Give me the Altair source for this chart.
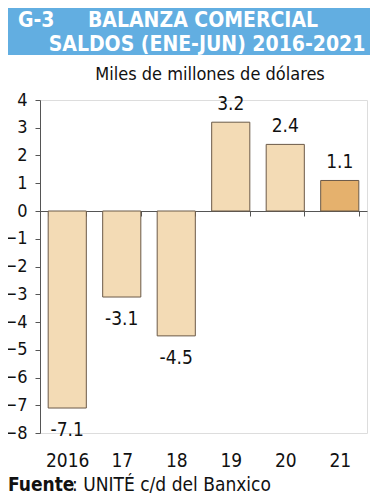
import altair as alt
import pandas as pd

years = ["2016", "17", "18", "19", "20", "21"]
values = [-7.1, -3.1, -4.5, 3.2, 2.4, 1.1]
highlight = ["no", "no", "no", "no", "no", "yes"]
y_ticks = [-8, -7, -6, -5, -4, -3, -2, -1, 0, 1, 2, 3, 4]

df = pd.DataFrame({"year": years, "value": values, "hl": highlight})
df["label"] = df["value"].map(lambda v: f"{v:.1f}")

FONT = "DejaVu Sans Condensed"
W, H = 327, 333

xscale = alt.Scale(domain=years, paddingInner=0.3, paddingOuter=0.15)
yscale = alt.Scale(domain=[-8, 4], nice=False, zero=False)

xaxis = alt.Axis(title=None, orient="bottom", offset=-222, domainColor="#555555",
                 tickColor="#555555", tickSize=5, tickBand="extent", labelAngle=0,
                 labelFont=FONT, labelFontSize=19, labelColor="#111111",
                 labelPadding=235)
yaxis = alt.Axis(title=None, values=y_ticks, grid=False, domainColor="#555555",
                 tickColor="#555555", tickSize=5, labelFont=FONT, labelFontSize=18,
                 labelColor="#111111", labelPadding=8, format="d",
                 labelOverlap=False, labelBound=False, labelFlush=False)

X = alt.X("year:N", scale=xscale, sort=years, axis=xaxis)
Y = alt.Y("value:Q", scale=yscale, axis=yaxis)

base = alt.Chart(df)

bars = base.mark_bar(stroke="#6b5a48", strokeWidth=1).encode(
    x=X, y=Y,
    color=alt.Color("hl:N", scale=alt.Scale(domain=["no", "yes"], range=["#F3DBB5", "#E5B16D"]),
                    legend=None),
)

pos_labels = base.transform_filter("datum.value >= 0").mark_text(
    baseline="bottom", dy=-8, font=FONT, fontSize=19, color="#111111"
).encode(x=X, y=Y, text="label:N")

neg_labels = base.transform_filter("datum.value < 0").mark_text(
    baseline="top", dy=13, font=FONT, fontSize=19, color="#111111"
).encode(x=X, y=Y, text="label:N")

banner = alt.Chart(pd.DataFrame({"a": [0]})).mark_rect(color="#62AEE1").encode(
    x=alt.value(-33), x2=alt.value(330), y=alt.value(-95), y2=alt.value(-45)
)

title_df = pd.DataFrame({"t": ["G-3", "BALANZA COMERCIAL", "SALDOS (ENE-JUN) 2016-2021"]})
t_left = alt.Chart(title_df.iloc[[0]]).mark_text(
    align="left", baseline="alphabetic", font=FONT, fontSize=21, fontWeight="bold", color="white"
).encode(x=alt.value(-22), y=alt.value(-73), text="t:N")
t_c1 = alt.Chart(title_df.iloc[[1]]).mark_text(
    align="center", baseline="alphabetic", font=FONT, fontSize=21, fontWeight="bold", color="white"
).encode(x=alt.value(163), y=alt.value(-73), text="t:N")
t_c2 = alt.Chart(title_df.iloc[[2]]).mark_text(
    align="center", baseline="alphabetic", font=FONT, fontSize=21, fontWeight="bold", color="white"
).encode(x=alt.value(167), y=alt.value(-49), text="t:N")

subtitle = alt.Chart(pd.DataFrame({"t": ["Miles de millones de dólares"]})).mark_text(
    align="center", baseline="alphabetic", font=FONT, fontSize=18, color="#111111"
).encode(x=alt.value(170), y=alt.value(-20), text="t:N")

src_bold = alt.Chart(pd.DataFrame({"t": ["Fuente"]})).mark_text(
    align="left", baseline="alphabetic", font=FONT, fontSize=19, fontWeight="bold", color="#111111"
).encode(x=alt.value(-32), y=alt.value(391), text="t:N")
src_rest = alt.Chart(pd.DataFrame({"t": [": UNITÉ c/d del Banxico"]})).mark_text(
    align="left", baseline="alphabetic", font=FONT, fontSize=19, color="#111111"
).encode(x=alt.value(32), y=alt.value(391), text="t:N")

chart = alt.layer(
    banner, t_left, t_c1, t_c2, subtitle, bars, pos_labels, neg_labels, src_bold, src_rest
).properties(
    width=W, height=H,
    autosize=alt.AutoSizeParams(type="none"),
    padding={"left": 32, "top": 92, "right": 13, "bottom": 66},
).configure_view(stroke=None).configure(background="white")

chart.save("out.html", embed_options={"renderer": "svg", "actions": False})
